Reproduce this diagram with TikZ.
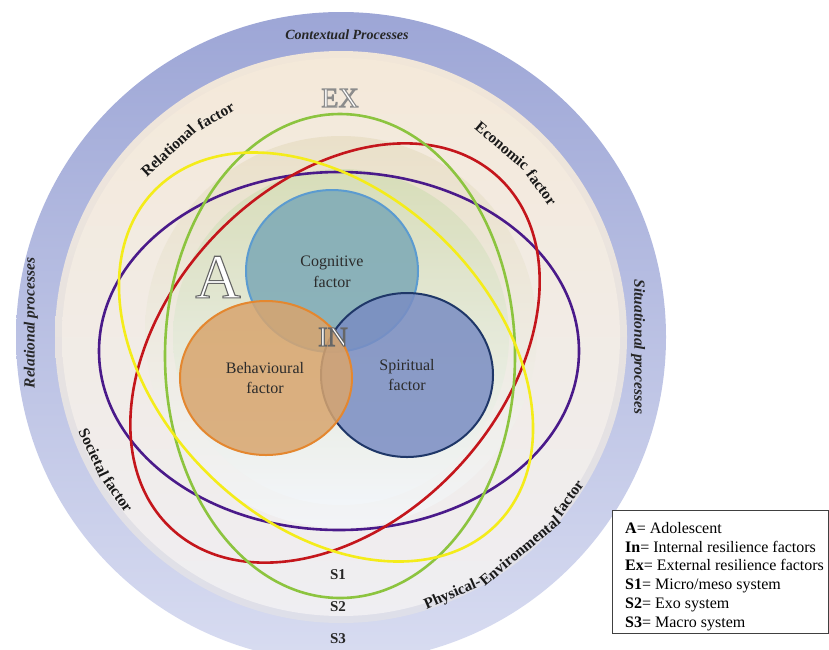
\documentclass[tikz,border=0pt]{standalone}
\usepackage{fontspec}
\setmainfont{Liberation Serif}
\usetikzlibrary{calc}
\definecolor{ringtop}{HTML}{9DA6D6}
\definecolor{ringbot}{HTML}{D8DCF1}
\definecolor{bandtop}{HTML}{F1E6D8}
\definecolor{bandbot}{HTML}{DEDFE9}
\definecolor{beigetop}{HTML}{F4E9D9}
\definecolor{beigebot}{HTML}{EFEEF2}
\definecolor{tantop}{HTML}{EAE0C9}
\definecolor{tanbot}{HTML}{F2F4F7}
\definecolor{greentop}{HTML}{D3DCB4}
\definecolor{greenbot}{HTML}{F3F6FA}
\definecolor{cogfill}{HTML}{7CA9B6}
\definecolor{cogdraw}{HTML}{5B9BD0}
\definecolor{behfill}{HTML}{D8A56E}
\definecolor{behdraw}{HTML}{E4872F}
\definecolor{spifill}{HTML}{7A8DC3}
\definecolor{spidraw}{HTML}{1F3768}
\definecolor{ylw}{HTML}{F4EC1A}
\definecolor{rd}{HTML}{C4161C}
\definecolor{grn}{HTML}{8CC43F}
\definecolor{prp}{HTML}{4A1A8A}
\definecolor{txtc}{HTML}{2B2B2B}
\definecolor{legc}{HTML}{404040}
\newcommand\outlinedtxt[2]{\color{white}\special{pdf:code #1 G 2 Tr 1.1 w}#2\special{pdf:code 0 Tr}}
\tikzset{
  ring/.style={line width=2.6pt},
  venn/.style={line width=2pt, fill opacity=0.85},
  venntext/.style={align=center, text=txtc, font=\fontsize{16}{20.5}\selectfont},
  procfont/.style={font=\bfseries\itshape\fontsize{15.5}{17}\selectfont, text=black!85},
  factorlbl/.style={font=\bfseries\fontsize{15.5}{17}\selectfont, text=black!90, anchor=base, inner sep=0},
  slabel/.style={font=\bfseries\fontsize{15}{16}\selectfont, text=black!85},
  bigA/.style={font=\fontsize{63}{63}\selectfont},
  bigIN/.style={font=\fontsize{28}{28}\selectfont},
}
\begin{document}
\begin{tikzpicture}[x=1pt,y=1pt]
\useasboundingbox (0,0) rectangle (829,-649);
\clip (0,0) rectangle (829,-649);
\coordinate (c) at (341,-337);
% background discs
\shade[top color=ringtop, bottom color=ringbot] (c) circle (325pt);
\shade[top color=bandtop, bottom color=bandbot] (c) circle (286pt);
\shade[top color=beigetop, bottom color=beigebot] (c) circle (279pt);
\shade[top color=tantop, bottom color=tanbot] (341,-332) circle (196pt);
\shade[top color=greentop, bottom color=greenbot, opacity=0.8] (341,-337) circle (168pt);
% Venn circles
\draw[venn, fill=cogfill, draw=cogdraw] (332,-271) ellipse [x radius=86pt, y radius=81pt];
\draw[venn, fill=spifill, draw=spidraw] (407,-375) ellipse [x radius=86pt, y radius=82pt];
\draw[venn, fill=behfill, draw=behdraw] (266,-378) ellipse [x radius=86pt, y radius=77pt];
\node[venntext] (cog) at (332,-272) {Cognitive\\factor};
\node[venntext] (beh) at (265,-378) {Behavioural\\factor};
\node[venntext] (spi) at (407,-375) {Spiritual\\factor};
% system ellipses
\draw[ring, prp] (339,-351) ellipse [x radius=240pt, y radius=179pt];
\draw[ring, rd, rotate around={47:(335,-353)}] (335,-353) ellipse [x radius=240pt, y radius=168pt];
\draw[ring, grn] (340,-356) ellipse [x radius=175pt, y radius=242pt];
\draw[ring, ylw, rotate around={-44:(326,-357)}] (326,-357) ellipse [x radius=239pt, y radius=166pt];
% big outlined letters
\node[bigA] (A) at (218,-277) {\outlinedtxt{0.4}{A}};
\node[bigIN] (IN) at (333,-337) {\outlinedtxt{0.4}{IN}};
\node[bigIN] (EX) at (340,-98) {\outlinedtxt{0.55}{EX}};
% process labels
\node[procfont, font=\bfseries\itshape\fontsize{14}{16}\selectfont] (ctx) at (347,-35) {Contextual Processes};
\node[procfont, rotate=90] (relp) at (31,-323) {Relational processes};
\node[procfont, rotate=-90] (sitp) at (638,-347) {Situational processes};
% factor labels set word by word along the circle
\node[factorlbl, rotate=42.8] (relf1) at ($(c)+(132.8:249pt)$) {Relational};
\node[factorlbl, rotate=29.5] (relf2) at ($(c)+(119.5:249pt)$) {factor};
\node[factorlbl, rotate=-40.15] (ecof1) at ($(c)+(49.85:245pt)$) {Economic};
\node[factorlbl, rotate=-53.34] (ecof2) at ($(c)+(36.66:245pt)$) {factor};
\node[factorlbl, rotate=295.03] (socf1) at ($(c)+(205.03:278pt)$) {Societal};
\node[factorlbl, rotate=305.24] (socf2) at ($(c)+(215.24:278pt)$) {factor};
\node[factorlbl, rotate=23.5] (phyf1) at ($(c)+(-66.5:284pt)$) {Physical-};
\node[factorlbl, rotate=39.89] (phyf2) at ($(c)+(-50.11:284pt)$) {Environmental};
\node[factorlbl, rotate=54.74] (phyf3) at ($(c)+(-35.26:284pt)$) {factor};
% system labels
\node[slabel] (s1) at (338,-575) {S1};
\node[slabel] (s2) at (338,-607) {S2};
\node[slabel] (s3) at (338,-639) {S3};
% legend
\node[draw=legc, line width=1.2pt, fill=white, minimum width=216pt, minimum height=123pt, anchor=north west, inner sep=0] (legbox) at (612,-510) {};
\node[anchor=north west, inner sep=0, align=left, font=\fontsize{16}{18.8}\selectfont] (legend) at (625,-522) {\textbf{A}= Adolescent\\\textbf{In}= Internal resilience factors\\\textbf{Ex}= External resilience factors\\\textbf{S1}= Micro/meso system\\\textbf{S2}= Exo system\\\textbf{S3}= Macro system};
\end{tikzpicture}
\end{document}
